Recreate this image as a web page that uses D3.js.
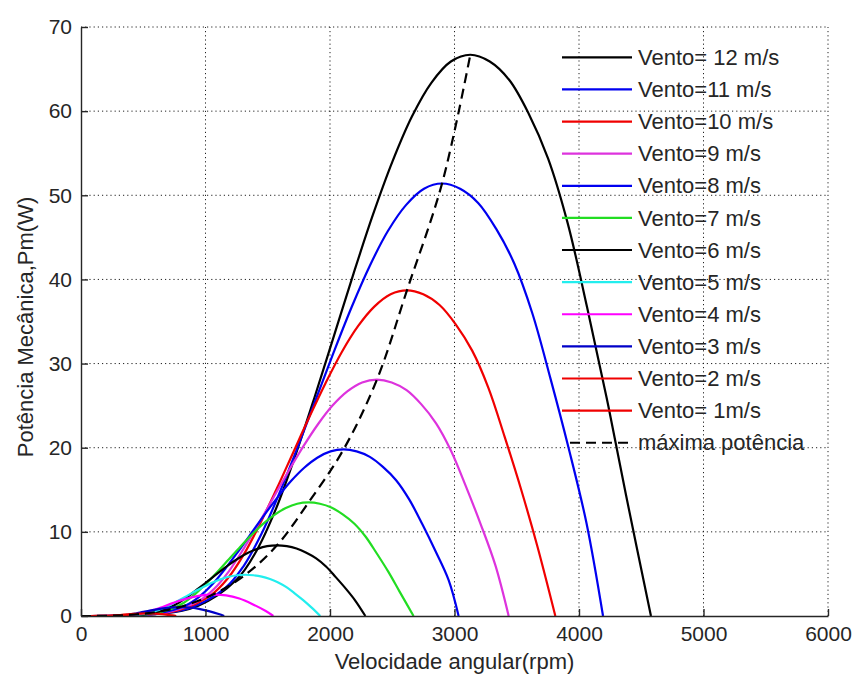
<!DOCTYPE html>
<html>
<head>
<meta charset="utf-8">
<script src="https://cdn.jsdelivr.net/npm/d3@7"></script>
<style>
  body { margin: 0; background: #fff; }
  svg { display: block; font-family: 'Liberation Sans', Arial, sans-serif; }
  .axis text { font-size: 21px; fill: #262626; }
  .axis path, .axis line { stroke: #262626; stroke-width: 1.4; }
  .grid line { stroke: #222; stroke-width: 1; stroke-dasharray: 1.2, 3; }
  .curve { fill: none; stroke-width: 2.2; }
  .label, .legend text { font-size: 22px; fill: #262626; }
</style>
</head>
<body>
<script>
/* global d3 */
(function () {
  'use strict'

  // curves: [rpm, Pm (W)]
  var v12 = [[0, 0], [625, 0.27], [938, 1.2], [1251, 4.34], [1407, 7.67], [1564, 12.67], [1720, 19.0], [1876, 26.0], [2033, 33.35], [2189, 40.69], [2345, 47.69], [2502, 54.03], [2658, 59.36], [2814, 63.37], [2971, 65.9], [3127, 66.7], [3283, 65.9], [3440, 63.7], [3596, 59.7], [3752, 54.36], [3909, 46.69], [4065, 36.69], [4221, 26.01], [4378, 14.34], [4578, 0]]
  var v11 = [[0, 0], [580, 0.21], [870, 0.93], [1160, 3.34], [1305, 5.91], [1450, 9.77], [1595, 14.65], [1740, 20.05], [1885, 25.7], [2030, 31.35], [2175, 36.75], [2320, 41.63], [2465, 45.75], [2610, 48.83], [2755, 50.78], [2900, 51.4], [3045, 50.78], [3190, 49.09], [3335, 46.0], [3480, 41.89], [3625, 35.98], [3770, 28.27], [3915, 20.05], [4060, 11.05], [4193, 0]]
  var v10 = [[0, 0], [524, 0.15], [785, 0.7], [1047, 2.52], [1178, 4.45], [1309, 7.35], [1440, 11.03], [1571, 15.09], [1702, 19.35], [1833, 23.61], [1964, 27.67], [2094, 31.35], [2225, 34.44], [2356, 36.77], [2487, 38.24], [2618, 38.7], [2749, 38.24], [2880, 36.96], [3011, 34.64], [3142, 31.54], [3273, 27.09], [3403, 21.29], [3534, 15.09], [3665, 8.32], [3810, 0]]
  var v9 = [[0, 0], [475, 0.11], [713, 0.51], [951, 1.83], [1070, 3.23], [1189, 5.34], [1307, 8.01], [1426, 10.96], [1545, 14.05], [1664, 17.14], [1783, 20.09], [1902, 22.76], [2020, 25.01], [2139, 26.7], [2258, 27.76], [2377, 28.1], [2496, 27.76], [2615, 26.84], [2734, 25.15], [2852, 22.9], [2971, 19.67], [3090, 15.46], [3209, 10.96], [3328, 6.04], [3435, 0]]
  var v8 = [[0, 0], [422, 0.08], [633, 0.36], [844, 1.29], [949, 2.28], [1055, 3.76], [1160, 5.64], [1265, 7.72], [1371, 9.9], [1476, 12.08], [1582, 14.16], [1687, 16.04], [1793, 17.62], [1898, 18.81], [2004, 19.56], [2109, 19.8], [2214, 19.56], [2320, 18.91], [2425, 17.72], [2531, 16.14], [2636, 13.86], [2742, 10.89], [2847, 7.72], [2953, 4.26], [3033, 0]]
  var v7 = [[0, 0], [366, 0.05], [548, 0.24], [731, 0.88], [823, 1.55], [914, 2.57], [1005, 3.85], [1097, 5.27], [1188, 6.75], [1280, 8.24], [1371, 9.65], [1462, 10.94], [1554, 12.02], [1645, 12.83], [1737, 13.34], [1828, 13.5], [1919, 13.34], [2011, 12.89], [2102, 12.08], [2194, 11.0], [2285, 9.45], [2376, 7.43], [2468, 5.27], [2559, 2.9], [2671, 0]]
  var v6 = [[0, 0], [315, 0.03], [472, 0.15], [630, 0.55], [708, 0.97], [787, 1.6], [866, 2.39], [944, 3.28], [1023, 4.2], [1102, 5.12], [1181, 6.01], [1259, 6.8], [1338, 7.48], [1417, 7.98], [1495, 8.3], [1574, 8.4], [1653, 8.3], [1731, 8.02], [1810, 7.52], [1889, 6.85], [1968, 5.88], [2046, 4.62], [2125, 3.28], [2204, 1.81], [2284, 0]]
  var v5 = [[0, 0], [264, 0.02], [396, 0.09], [528, 0.32], [594, 0.56], [660, 0.93], [726, 1.4], [792, 1.91], [858, 2.45], [924, 2.99], [990, 3.5], [1056, 3.97], [1122, 4.36], [1188, 4.66], [1254, 4.84], [1320, 4.9], [1386, 4.84], [1452, 4.68], [1518, 4.39], [1584, 3.99], [1650, 3.43], [1716, 2.7], [1782, 1.91], [1848, 1.05], [1922, 0]]
  var v4 = [[0, 0], [212, 0.01], [318, 0.05], [424, 0.17], [477, 0.29], [530, 0.48], [583, 0.73], [636, 0.98], [742, 1.56], [848, 2.07], [954, 2.42], [1060, 2.55], [1166, 2.46], [1272, 2.07], [1378, 1.4], [1484, 0.59], [1545, 0]]
  var v3 = [[0, 0], [158, 0.004], [237, 0.02], [316, 0.07], [356, 0.12], [395, 0.2], [435, 0.3], [474, 0.4], [553, 0.64], [632, 0.85], [711, 1.0], [790, 1.05], [869, 1.01], [948, 0.85], [1027, 0.58], [1106, 0.24], [1150, 0]]
  var v2 = [[0, 0], [210, 0.02], [263, 0.059], [315, 0.12], [368, 0.19], [420, 0.25], [473, 0.29], [525, 0.31], [578, 0.3], [630, 0.25], [683, 0.17], [735, 0.07], [765, 0]]
  var v1 = [[0, 0], [131, 0.008], [183, 0.024], [210, 0.032], [262, 0.04], [314, 0.032], [341, 0.022], [367, 0.009], [383, 0]]
  var maxPower = [[0, 0], [262, 0.04], [525, 0.31], [790, 1.05], [1060, 2.55], [1320, 4.9], [1574, 8.4], [1828, 13.5], [2109, 19.8], [2377, 28.1], [2618, 38.7], [2900, 51.4], [3127, 66.7]]

  var labels = ['Vento= 12 m/s', 'Vento=11 m/s', 'Vento=10 m/s', 'Vento=9 m/s',
    'Vento=8 m/s', 'Vento=7 m/s', 'Vento=6 m/s', 'Vento=5 m/s', 'Vento=4 m/s',
    'Vento=3 m/s', 'Vento=2 m/s', 'Vento= 1m/s']
  var maxLabel = 'máxima potência'
  var xTicks = [0, 1000, 2000, 3000, 4000, 5000, 6000]
  var yTicks = [0, 10, 20, 30, 40, 50, 60, 70]

  var series = [v12, v11, v10, v9, v8, v7, v6, v5, v4, v3, v2, v1]
  var colors = ['#000000', '#0000f0', '#f00000', '#dd33dd', '#0000f0', '#22dd22',
    '#000000', '#22eeee', '#ff00ff', '#0000c8', '#f00000', '#f00000']

  var dim = { w: 854, h: 675 }
  var plot = { left: 81, right: 828, top: 27, bottom: 616 }

  var x = d3.scaleLinear().domain([0, 6000]).range([plot.left, plot.right])
  var y = d3.scaleLinear().domain([0, 70]).range([plot.bottom, plot.top])

  var svg = d3.select('body').append('svg')
    .attr('width', dim.w)
    .attr('height', dim.h)

  svg.append('clipPath').attr('id', 'clip').append('rect')
    .attr('x', plot.left).attr('y', plot.top - 5)
    .attr('width', plot.right - plot.left).attr('height', plot.bottom - plot.top + 6)

  // dotted grid
  var grid = svg.append('g').attr('class', 'grid')
  grid.selectAll('.gx').data(xTicks.slice(1)).enter().append('line')
    .attr('x1', function (d) { return x(d) }).attr('x2', function (d) { return x(d) })
    .attr('y1', plot.bottom).attr('y2', plot.top)
  grid.selectAll('.gy').data(yTicks.slice(1)).enter().append('line')
    .attr('y1', function (d) { return y(d) }).attr('y2', function (d) { return y(d) })
    .attr('x1', plot.left).attr('x2', plot.right)

  var line = d3.line()
    .x(function (d) { return x(d[0]) })
    .y(function (d) { return y(d[1]) })
    .curve(d3.curveCatmullRom.alpha(0.5))

  var chart = svg.append('g').attr('clip-path', 'url(#clip)')

  chart.selectAll('.curve').data(series).enter().append('path')
    .attr('class', 'curve')
    .attr('stroke', function (d, i) { return colors[i] })
    .attr('d', line)

  chart.append('path')
    .attr('class', 'curve')
    .attr('stroke', '#000')
    .attr('stroke-dasharray', '10,6')
    .attr('d', line(maxPower))

  // axes, ticks pointing inward
  svg.append('g')
    .attr('class', 'x axis')
    .attr('transform', 'translate(0,' + plot.bottom + ')')
    .call(d3.axisBottom(x).tickValues(xTicks).tickFormat(d3.format('d'))
      .tickSizeInner(-7).tickSizeOuter(0).tickPadding(10))

  svg.append('g')
    .attr('class', 'y axis')
    .attr('transform', 'translate(' + plot.left + ',0)')
    .call(d3.axisLeft(y).tickValues(yTicks).tickFormat(d3.format('d'))
      .tickSizeInner(-7).tickSizeOuter(0).tickPadding(9))

  svg.append('text')
    .attr('class', 'label')
    .attr('x', (plot.left + plot.right) / 2)
    .attr('y', 669)
    .attr('text-anchor', 'middle')
    .text('Velocidade angular(rpm)')

  svg.append('text')
    .attr('class', 'label')
    .attr('transform', 'translate(33,' + 327 + ') rotate(-90)')
    .attr('text-anchor', 'middle')
    .text('Potência Mecânica,Pm(W)')

  // legend, no box
  var legend = svg.append('g').attr('class', 'legend')
  var entries = labels.concat([maxLabel])
  var item = legend.selectAll('g').data(entries).enter().append('g')
    .attr('transform', function (d, i) { return 'translate(0,' + (57.3 + i * 32.12) + ')' })
  item.append('line')
    .attr('x1', function (d, i) { return i < labels.length ? 562 : 570 })
    .attr('x2', 632)
    .attr('stroke-width', 2.2)
    .attr('stroke', function (d, i) { return i < labels.length ? colors[i] : '#000' })
    .attr('stroke-dasharray', function (d, i) { return i < labels.length ? null : '10,6' })
  item.append('text')
    .attr('x', 638)
    .attr('dy', '0.35em')
    .text(function (d) { return d })
}())
</script>
</body>
</html>
